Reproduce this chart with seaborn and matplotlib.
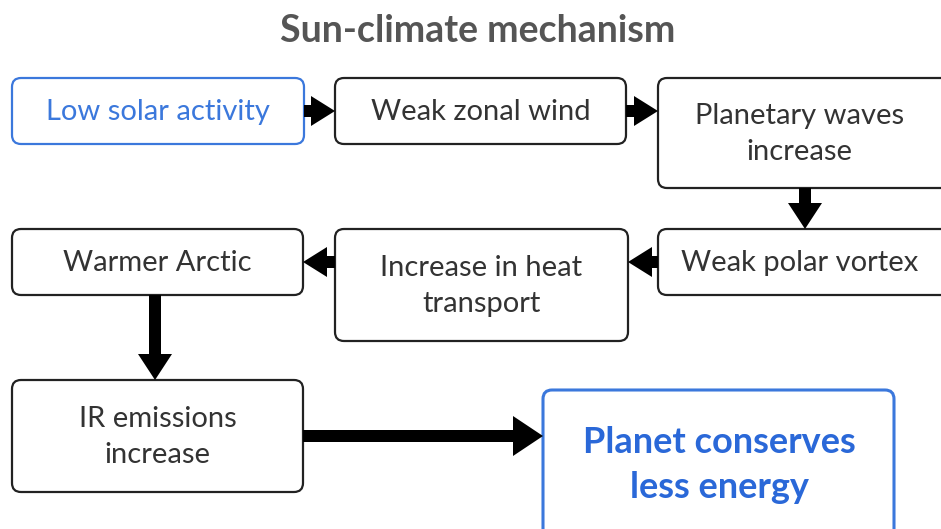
import matplotlib
matplotlib.use("Agg")
import matplotlib.pyplot as plt
import seaborn as sns
from matplotlib.patches import FancyBboxPatch, FancyArrow

# Flowchart content
title = "Sun-climate mechanism"
steps = [
    "Low solar activity",
    "Weak zonal wind",
    "Planetary waves\nincrease",
    "Weak polar vortex",
    "Increase in heat\ntransport",
    "Warmer Arctic",
    "IR emissions\nincrease",
    "Planet conserves\nless energy",
]
highlight = ["Low solar activity", "Planet conserves\nless energy"]
links = [(0, 1), (1, 2), (2, 3), (3, 4), (4, 5), (5, 6), (6, 7)]

# Layout in pixel space (x0, y0, x1, y1), y grows downwards
boxes = [
    (12, 78, 304, 144),
    (335, 78, 626, 144),
    (658, 78, 955, 188),
    (658, 229, 955, 295),
    (335, 229, 628, 341),
    (12, 229, 303, 295),
    (12, 380, 303, 492),
    (543, 390, 894, 545),
]

sns.set_theme(style="white")
plt.rcParams['font.family'] = ['Lato', 'DejaVu Sans']

fig = plt.figure(figsize=(9.41, 5.29), dpi=100)
ax = fig.add_axes([0, 0, 1, 1])
ax.set_xlim(0, 941)
ax.set_ylim(529, 0)
ax.axis("off")

blue = "#3b78dc"
dark = "#222222"

ax.text(478, 31, title, ha="center", va="center", fontsize=27,
        fontweight="bold", color="#555555")

for i, label in enumerate(steps):
    x0, y0, x1, y1 = boxes[i]
    hl = label in highlight
    patch = FancyBboxPatch((x0, y0), x1 - x0, y1 - y0,
                           boxstyle="round,pad=0,rounding_size=9",
                           fc="white", ec=blue if hl else dark,
                           lw=2.2 if i == 7 else 1.6)
    ax.add_patch(patch)
    cx = (x0 + min(x1, 941)) / 2 if i in (2, 3) else (x0 + x1) / 2
    cy = (y0 + y1) / 2 + 1
    if i == 7:
        ax.text(719, 465, label, ha="center", va="center", fontsize=26,
                fontweight="bold", color="#2a68d8", linespacing=1.45)
    else:
        ax.text(cx, cy, label, ha="center", va="center", fontsize=21,
                color=blue if hl else "#333333", linespacing=1.5)

for a, b in links:
    ax0, ay0, ax1, ay1 = boxes[a]
    bx0, by0, bx1, by1 = boxes[b]
    if abs(ay0 - by0) < 5:  # same row
        y = 111 if ay0 < 100 else 262
        if bx0 > ax1:
            xs, xe = ax1, bx0
        else:
            xs, xe = ax0, bx1
        ax.add_patch(FancyArrow(xs, y, xe - xs, 0, width=12, head_width=30,
                                head_length=24, length_includes_head=True,
                                fc="black", ec="black", lw=0))
    elif a == 6:
        ax.add_patch(FancyArrow(ax1, 436, bx0 - ax1, 0, width=12, head_width=40,
                                head_length=30, length_includes_head=True,
                                fc="black", ec="black", lw=0))
    else:
        x = 805 if a == 2 else 155
        ax.add_patch(FancyArrow(x, ay1, 0, by0 - ay1, width=12, head_width=34,
                                head_length=26, length_includes_head=True,
                                fc="black", ec="black", lw=0))

fig.savefig("out.png", dpi=100)
